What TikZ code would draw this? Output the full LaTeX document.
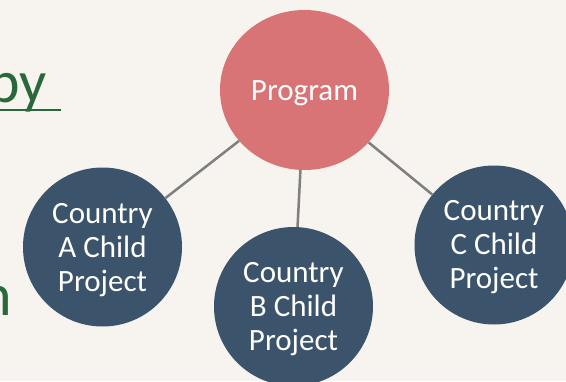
\documentclass[tikz,border=0pt]{standalone}
\usepackage{fontspec}
\setmainfont{Carlito}
\usetikzlibrary{shapes.geometric}
\definecolor{bgc}{HTML}{F7F3EE}
\definecolor{progred}{HTML}{D87475}
\definecolor{ctryblue}{HTML}{3B546B}
\definecolor{linkgray}{HTML}{7F7F7F}
\definecolor{txtgreen}{HTML}{28683A}
\tikzset{
  progbox/.style={ellipse, fill=progred, minimum width=169pt, minimum height=160pt, inner sep=0pt},
  ctrybox/.style={circle, fill=ctryblue, minimum size=159pt, inner sep=0pt},
  intext/.style={text=white, inner sep=0pt, align=center, font=\fontsize{31}{34}\selectfont},
  link/.style={draw=linkgray, line width=2.5pt},
  sidetext/.style={text=txtgreen, inner sep=0pt, font=\fontsize{60}{72}\selectfont}
}
\begin{document}
\begin{tikzpicture}[x=1pt,y=-1pt]
\fill[bgc] (0,0) rectangle (566,381);
\useasboundingbox (0,0) rectangle (566,381);
\node[sidetext, anchor=base east] (py) at (47,102) {py};
\draw[txtgreen, line width=2pt] (0,110) coordinate (ul1) -- (61,110) coordinate (ul2);
\node[sidetext, anchor=base east] (nn) at (12,315) {n};
\node[progbox] (prog) at (304.5,90) {};
\node[ctrybox] (ca) at (102.5,247) {};
\node[ctrybox] (cb) at (293.5,306.5) {};
\node[ctrybox] (cc) at (494,245) {};
\node[intext] (progt) at ([yshift=-3pt]prog.center) {Program};
\node[intext] (cat) at ([yshift=-3pt]ca.center) {Country\\A Child\\Project};
\node[intext] (cbt) at ([yshift=-3pt]cb.center) {Country\\B Child\\Project};
\node[intext] (cct) at ([yshift=-2pt]cc.center) {Country\\C Child\\Project};
\draw[link] (prog) -- (ca);
\draw[link] (prog) -- (cb);
\draw[link] (prog) -- (cc);
\end{tikzpicture}
\end{document}
